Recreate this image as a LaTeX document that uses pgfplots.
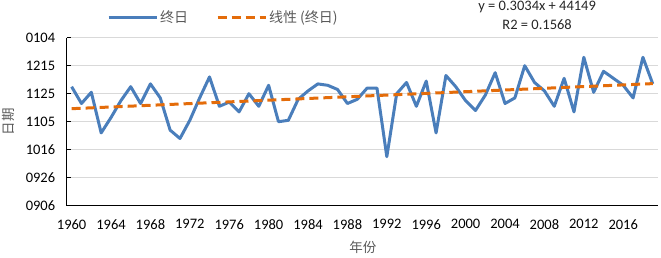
\documentclass[border=0pt]{standalone}
\usepackage{pgfplots}
\pgfplotsset{compat=1.18}
\usepackage{fontspec}
\setmainfont{Carlito}
\newfontfamily\cjk{Noto Sans CJK SC}
\definecolor{blueline}{RGB}{74,126,187}
\definecolor{orangeline}{RGB}{228,108,10}
\definecolor{gridgray}{RGB}{217,217,217}
\definecolor{labelgray}{RGB}{89,89,89}
\newcommand\tl{\fontsize{14.5}{16}\selectfont}
\begin{document}
\begin{tikzpicture}
\path[use as bounding box] (-66.7pt,-51.3pt) rectangle (594.3pt,205.7pt);
\begin{axis}[
  at={(0pt,0pt)}, anchor=south west,
  scale only axis, width=591pt, height=168pt,
  xmin=1959.5, xmax=2019.5, ymin=44080, ymax=44200,
  axis lines*=left,
  axis line style={black, line width=1pt},
  tick align=inside,
  scaled y ticks=false, scaled x ticks=false,
  xtick={1960,1964,...,2016},
  xtick style={draw=none},
  extra x ticks={1959.5,1960.5,...,2019.5},
  extra x tick labels={},
  extra x tick style={grid=none, major tick length=4pt, tick style={black, line width=0.8pt}},
  ytick={44080,44100,44120,44140,44160,44180,44200},
  yticklabels={0906,0926,1016,1105,1125,1215,0104},
  ytick style={black, line width=0.8pt},
  major tick length=4pt,
  ymajorgrids, grid style={gridgray, line width=0.8pt},
  /pgf/number format/assume math mode=true,
  /pgf/number format/1000 sep={},
  ticklabel style={font=\tl, black},
  xticklabel style={yshift=-10pt},
  yticklabel style={xshift=-8pt},
  xlabel={\cjk 年份},
  ylabel={\cjk 日期},
  xlabel style={at={(axis description cs:0.501,-0.246)}, anchor=center, font=\fontsize{13.5}{15}\selectfont, labelgray},
  ylabel style={at={(axis description cs:-0.0993,0.5)}, anchor=center, font=\fontsize{13.5}{15}\selectfont, labelgray},
  clip=false,
  legend columns=2,
  legend style={draw=none, fill=none, at={(axis description cs:0.265,1.123)}, anchor=center,
    font=\fontsize{14}{16}\selectfont\cjk, text=labelgray,
    /tikz/every even column/.append style={column sep=26pt}},
  legend image code/.code={\draw[#1] (0pt,0pt) -- (48pt,0pt);},
]
\addplot[blueline, line width=3pt, line join=round, mark=none] coordinates {
(1960,44165) (1961,44153) (1962,44161) (1963,44132) (1964,44143)
(1965,44155) (1966,44165) (1967,44153) (1968,44167) (1969,44157)
(1970,44134) (1971,44128) (1972,44141) (1973,44157) (1974,44172)
(1975,44151) (1976,44154) (1977,44147) (1978,44160) (1979,44151)
(1980,44166) (1981,44140) (1982,44141) (1983,44156) (1984,44162)
(1985,44167) (1986,44166) (1987,44163) (1988,44153) (1989,44156)
(1990,44164) (1991,44164) (1992,44115) (1993,44160) (1994,44168)
(1995,44151) (1996,44169) (1997,44132) (1998,44173) (1999,44165)
(2000,44155) (2001,44148) (2002,44159) (2003,44175) (2004,44153)
(2005,44157) (2006,44180) (2007,44168) (2008,44162) (2009,44151)
(2010,44171) (2011,44147) (2012,44186) (2013,44161) (2014,44176)
(2015,44171) (2016,44166) (2017,44157) (2018,44186) (2019,44167)
};
\addlegendentry{终日}
\addplot[orangeline, line width=3pt, dash pattern=on 9pt off 5pt, mark=none] coordinates {
(1960,44149.30) (2019,44167.20)
};
\addlegendentry{线性 (终日)}
\node[font=\fontsize{14.5}{16}\selectfont, text=black!85] at (axis description cs:0.796,1.183) {y = 0.3034x + 44149};
\node[font=\fontsize{14.5}{16}\selectfont, text=black!85] at (axis description cs:0.796,1.076) {R2 = 0.1568};
\end{axis}
\end{tikzpicture}
\end{document}
